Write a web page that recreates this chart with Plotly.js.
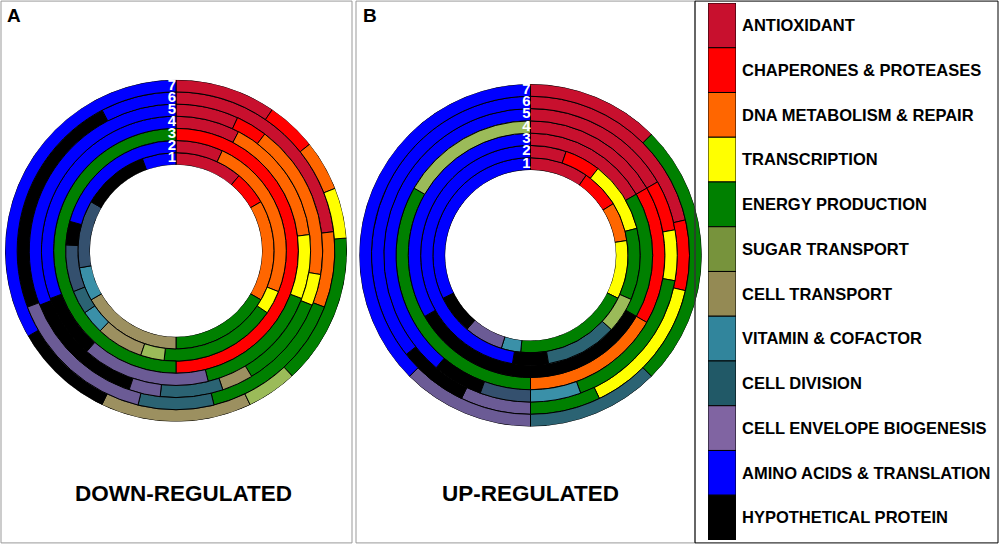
<!DOCTYPE html>
<html><head><meta charset="utf-8">
<script src="https://cdn.plot.ly/plotly-3.0.1.min.js"></script>
<style>html,body{margin:0;padding:0;background:#fff}#chart{width:1000px;height:544px}</style>
</head><body><div id="chart"></div>
<script>
// Category keys, legend labels and colours
const categoryKeys = ["AOX","CHP","DNA","TRN","ENE","SUG","CTR","VIT","DIV","ENV","AMI","HYP"];
const categoryLabels = ["ANTIOXIDANT","CHAPERONES & PROTEASES","DNA METABOLISM & REPAIR","TRANSCRIPTION","ENERGY PRODUCTION","SUGAR TRANSPORT","CELL TRANSPORT","VITAMIN & COFACTOR","CELL DIVISION","CELL ENVELOPE BIOGENESIS","AMINO ACIDS & TRANSLATION","HYPOTHETICAL PROTEIN"];
const legendColors = ["#C8102E","#FF0000","#FF6600","#FFFF00","#008000","#77933C","#948A54","#31859C","#215967","#8064A2","#0000FF","#000000"];
const ringColors = {AOX:"#C8102E",CHP:"#FF0000",DNA:"#FF6600",TRN:"#FFFF00",ENE:"#008000",SUG:"#9BBB59",CTR:"#9C9060",VIT:"#3A90A8",DIV:"#2B6373",ENV:"#6B5B95",AMI:"#0000FF",HYP:"#000000",SLT:"#34506E"};

// DOWN-REGULATED rings (1 = innermost): categories clockwise from 12 o'clock and protein counts
const downRingCats = [
  ["AOX","CHP","DNA","ENE","CTR","VIT","SLT","HYP","AMI"],
  ["AOX","DNA","TRN","ENE","SUG","CTR","VIT","DIV","SLT","HYP","AMI"],
  ["CHP","ENE"],
  ["AOX","DNA","TRN","ENE","ENV","HYP","AMI"],
  ["AOX","CHP","DNA","TRN","ENE","CTR","DIV","ENV","HYP","AMI"],
  ["AOX","DNA","ENE","DIV","ENV","HYP","AMI"],
  ["AOX","CHP","DNA","TRN","ENE","SUG","CTR","HYP","AMI"]
];
const downRingCounts = [
  [2,1,3,3,3,1,2,2,1],
  [2,7,1,5,1,2,1,1,2,1,6],
  [1,1],
  [1,2,1,2,2,1,4],
  [2,1,5,1,3,1,2,1,4,9],
  [3,1,2,1,2,3,1],
  [2,1,1,1,3,1,3,2,7]
];
// UP-REGULATED rings
const upRingCats = [
  ["AOX","CHP","DNA","TRN","ENE","VIT","ENV","HYP","AMI"],
  ["AOX","CHP","TRN","ENE","SUG","DIV","HYP","AMI"],
  ["AOX","ENE","HYP","AMI"],
  ["AOX","CHP","DNA","ENE","SUG"],
  ["AOX","CHP","TRN","ENE","VIT","SLT","HYP","AMI"],
  ["AOX","CHP","TRN","ENE","ENV","HYP","AMI"],
  ["AOX","ENE","DIV","ENV","AMI"]
];
const upRingCounts = [
  [3,2,2,3,6,1,2,2,10],
  [1,1,2,2,1,2,1,9],
  [1,1,2,2],
  [1,1,1,2,1],
  [3,1,1,3,1,1,1,7],
  [3,1,2,1,1,1,5],
  [1,2,1,1,3]
];
const ringLabels = ["1","2","3","4","5","6","7"];
const panelTitles = ["DOWN-REGULATED","UP-REGULATED"];

function ringTraces(cats, counts, subplot){
  const byCat = {};
  cats.forEach((ring, ri) => {
    const total = counts[ri].reduce((a,b)=>a+b,0);
    let cum = 0;
    ring.forEach((c, si) => {
      const span = counts[ri][si] / total * 360;
      if(!byCat[c]) byCat[c] = {theta:[], width:[], base:[], r:[]};
      byCat[c].theta.push(cum + span/2);
      byCat[c].width.push(span);
      byCat[c].base.push(ri);
      byCat[c].r.push(1);
      cum += span;
    });
  });
  return Object.keys(byCat).map(c => ({
    type:"barpolar", subplot, name:c, showlegend:false, hoverinfo:"skip",
    r:byCat[c].r, base:byCat[c].base, theta:byCat[c].theta, width:byCat[c].width,
    marker:{color:ringColors[c], line:{color:"#000", width:1}}
  }));
}
function labelTrace(subplot){
  return {type:"scatterpolar", subplot, mode:"text", showlegend:false, hoverinfo:"skip",
    r: ringLabels.map((l,i)=>i+0.5), theta: ringLabels.map(()=>0), text: ringLabels,
    textposition:"middle left",
    textfont:{family:"Liberation Sans, Arial, sans-serif", size:15, color:"#fff", weight:"bold"}};
}
const legendTrace = {
  type:"bar", orientation:"h", xaxis:"x3", yaxis:"y3", showlegend:false, hoverinfo:"skip",
  y: categoryLabels, x: categoryLabels.map(()=>1), width: 1,
  marker:{color: legendColors, line:{color:"#000", width:1}}
};

const data = [].concat(
  ringTraces(downRingCats, downRingCounts, "polar"), [labelTrace("polar")],
  ringTraces(upRingCats, upRingCounts, "polar2"), [labelTrace("polar2")],
  [legendTrace]
);

const polarCommon = {
  bgcolor:"rgba(0,0,0,0)", barmode:"overlay", bargap:0,
  radialaxis:{visible:false, range:[0,7]},
  angularaxis:{visible:false, rotation:90, direction:"clockwise", showgrid:false}
};
const layout = {
  width:1000, height:544, margin:{l:0,r:0,t:0,b:0},
  paper_bgcolor:"#fff", plot_bgcolor:"#fff",
  font:{family:"Liberation Sans, Arial, sans-serif", color:"#000"},
  polar: Object.assign({domain:{x:[0.005,0.347], y:[0.2246,0.8533]}, hole:0.503}, JSON.parse(JSON.stringify(polarCommon))),
  polar2: Object.assign({domain:{x:[0.3592,0.7018], y:[0.2158,0.8456]}, hole:0.498}, JSON.parse(JSON.stringify(polarCommon))),
  xaxis3:{domain:[0.708,0.736], range:[0,1], visible:false, fixedrange:true},
  yaxis3:{domain:[0.0074,0.9945], anchor:"x3", side:"right", type:"category", autorange:"reversed",
    showgrid:false, zeroline:false, showline:false, ticks:"", ticklabelstandoff:5,
    tickfont:{family:"Liberation Sans, Arial, sans-serif", size:16.5, color:"#000", weight:"bold"}},
  shapes:[
    {type:"rect", xref:"paper", yref:"paper", x0:0.001, x1:0.352, y0:0.002, y1:0.998, line:{color:"#999", width:1}},
    {type:"rect", xref:"paper", yref:"paper", x0:0.356, x1:0.695, y0:0.002, y1:0.998, line:{color:"#999", width:1}},
    {type:"rect", xref:"paper", yref:"paper", x0:0.695, x1:0.998, y0:0.002, y1:0.998, line:{color:"#000", width:1}}
  ],
  annotations:[
    {text:"<b>A</b>", xref:"paper", yref:"paper", x:0.005, y:0.995, xanchor:"left", yanchor:"top", showarrow:false, font:{size:19}},
    {text:"<b>B</b>", xref:"paper", yref:"paper", x:0.361, y:0.995, xanchor:"left", yanchor:"top", showarrow:false, font:{size:19}},
    {text:"<b>"+panelTitles[0]+"</b>", xref:"paper", yref:"paper", x:0.183, y:0.092, xanchor:"center", yanchor:"middle", showarrow:false, font:{size:22.5}},
    {text:"<b>"+panelTitles[1]+"</b>", xref:"paper", yref:"paper", x:0.53, y:0.092, xanchor:"center", yanchor:"middle", showarrow:false, font:{size:22.5}}
  ]
};
Plotly.newPlot("chart", data, layout, {displayModeBar:false, staticPlot:true});
</script></body></html>
